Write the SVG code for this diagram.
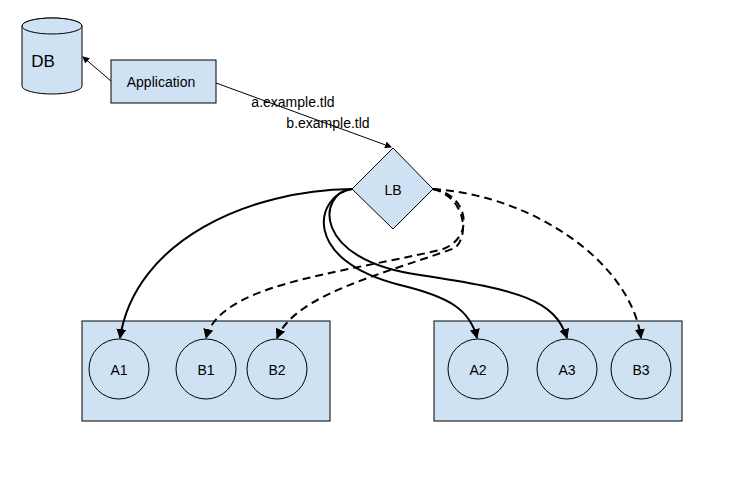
<svg xmlns="http://www.w3.org/2000/svg" width="753" height="496" viewBox="0 0 753 496">
<style>
.n{fill:#cfe2f3;stroke:#000;stroke-width:1}
.t{font-family:"Liberation Sans",Arial,sans-serif;font-size:14px;fill:#000;text-anchor:middle;dominant-baseline:central}
.c{fill:none;stroke:#000;stroke-width:2}
.d{fill:none;stroke:#000;stroke-width:2;stroke-dasharray:8,5}
.thin{fill:none;stroke:#000;stroke-width:1}
</style>
<defs>
<marker id="ah" markerWidth="10" markerHeight="10" refX="9" refY="5" orient="auto" markerUnits="userSpaceOnUse"><path d="M0,0 L10,5 L0,10 z" fill="#000"/></marker>
<marker id="as" markerWidth="7" markerHeight="7" refX="6" refY="3.5" orient="auto" markerUnits="userSpaceOnUse"><path d="M0,0 L7,3.5 L0,7 z" fill="#000"/></marker>
</defs>
<rect width="753" height="496" fill="#fff"/>
<g id="groupA"><rect class="n" x="82" y="321" width="248" height="100"/></g>
<g id="groupB"><rect class="n" x="434" y="321" width="248" height="100"/></g>
<g id="db"><path class="n" d="M22,26 v60 a30,8 0 0 0 60,0 v-60 a30,8 0 0 0 -60,0 z"/><ellipse class="n" cx="52" cy="26" rx="30" ry="8"/><text class="t" x="43" y="61" style="font-size:17px">DB</text></g>
<g id="app"><rect class="n" x="111" y="60" width="105" height="43"/><text class="t" x="161" y="82">Application</text></g>
<g id="lb"><polygon class="n" points="393,148 433,189 393,229 352,189"/><text class="t" x="393" y="190">LB</text></g>
<g id="a1"><circle class="n" cx="119" cy="369" r="30"/><text class="t" x="119" y="370">A1</text></g>
<g id="b1"><circle class="n" cx="206" cy="369" r="30"/><text class="t" x="206" y="370">B1</text></g>
<g id="b2"><circle class="n" cx="277" cy="369" r="30"/><text class="t" x="277" y="370">B2</text></g>
<g id="a2"><circle class="n" cx="478" cy="369" r="30"/><text class="t" x="478" y="370">A2</text></g>
<g id="a3"><circle class="n" cx="567" cy="369" r="30"/><text class="t" x="567" y="370">A3</text></g>
<g id="b3"><circle class="n" cx="641" cy="369" r="30"/><text class="t" x="641" y="370">B3</text></g>
<g id="connectors">
<path class="thin" d="M111,81 L83,57" marker-end="url(#as)"/>
<path class="thin" d="M216,83 L391,147" marker-end="url(#as)"/>
<text class="t" x="293" y="102" style="font-size:14px">a.example.tld</text>
<text class="t" x="328" y="123" style="font-size:14px">b.example.tld</text>
<path class="c" d="M352,189 C250,190 135,240 120,338" marker-end="url(#ah)"/>
<path class="c" d="M352,189 C315,195 300,260 400,285 C450,297 470,310 477,338" marker-end="url(#ah)"/>
<path class="c" d="M352,189 C318,192 310,260 420,275 C520,290 555,300 567,338" marker-end="url(#ah)"/>
<path class="d" d="M433,189 C470,195 475,240 440,250 C330,275 220,285 206,338" marker-end="url(#ah)"/>
<path class="d" d="M433,189 C465,197 470,235 455,248 C380,275 295,295 277,338" marker-end="url(#ah)"/>
<path class="d" d="M433,189 C530,195 630,260 641,338" marker-end="url(#ah)"/>
</g>
</svg>
